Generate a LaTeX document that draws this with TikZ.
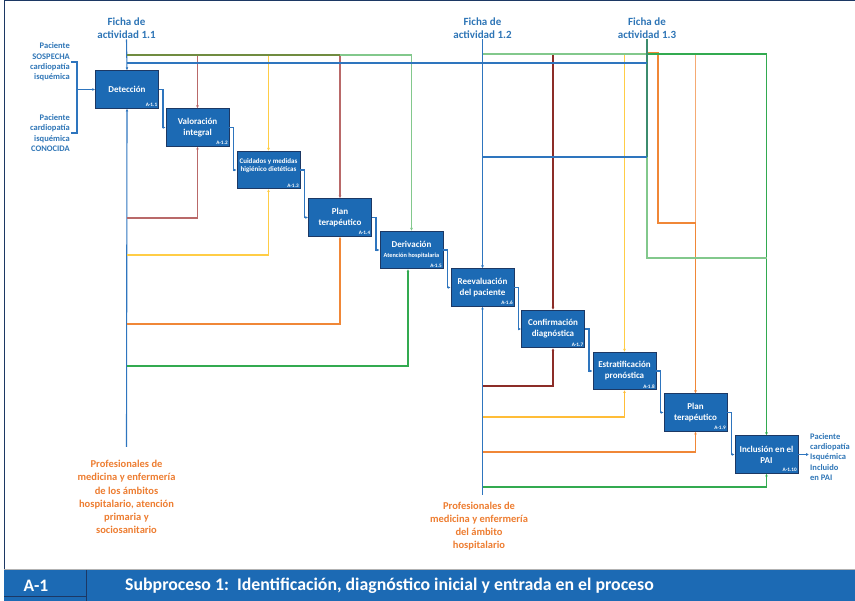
\documentclass[tikz,border=0pt]{standalone}
\usepackage{fontspec}
\setmainfont{Carlito}
\usetikzlibrary{arrows.meta}

\definecolor{boxblue}{RGB}{28,106,180}
\definecolor{boxedge}{RGB}{28,56,100}
\definecolor{lineblue}{RGB}{46,117,190}
\definecolor{txtblue}{RGB}{46,117,182}
\definecolor{txtorange}{RGB}{237,125,49}
\definecolor{olivegreen}{RGB}{112,140,64}
\definecolor{lightgreen}{RGB}{130,200,140}
\definecolor{darkgreen}{RGB}{50,170,80}
\definecolor{tealgreen}{RGB}{60,140,110}
\definecolor{rose}{RGB}{185,105,105}
\definecolor{darkred}{RGB}{140,45,40}
\definecolor{yellowline}{RGB}{255,205,70}
\definecolor{orangeline}{RGB}{240,135,55}
\definecolor{lightorange}{RGB}{245,170,115}

\tikzset{
  act/.style={draw=boxedge, fill=boxblue, line width=0.9pt,
    minimum width=63pt, minimum height=37.5pt, inner sep=1pt,
    align=center, text=white, font=\bfseries\fontsize{9}{11}\selectfont},
  code/.style={anchor=south east, text=white, inner sep=1.6pt,
    font=\bfseries\fontsize{5.2}{5.2}\selectfont},
  link/.style={line width=1.1pt},
  tip/.style={-{Latex[length=2.8pt,width=2.8pt]}},
  flow/.style={link, lineblue, tip},
  ficha/.style={text=txtblue, align=center, inner sep=1pt,
    font=\bfseries\fontsize{11}{12.5}\selectfont},
  patient/.style={text=txtblue, inner sep=1pt,
    font=\bfseries\fontsize{8.5}{10.4}\selectfont},
  staff/.style={text=txtorange, align=center, inner sep=1pt,
    font=\bfseries\fontsize{10.5}{13.2}\selectfont},
  dot/.style={fill=lineblue, inner sep=0pt, minimum size=2.2pt, circle}
}

\begin{document}
\begin{tikzpicture}[x=1pt, y=-1pt]
\useasboundingbox (0,0) rectangle (855,601);

% frame and bottom title band
\draw[boxedge, line width=1pt] (4,570) -- (4,1) -- (855,1);
\draw[black!30] (4,569) -- (855,569);
\fill[boxblue] (4,570) rectangle (855,601);
\draw[boxedge, line width=0.8pt] (86,570) -- (86,601);
\draw[boxedge, line width=0.8pt] (4,596) -- (86,596);
\node[text=white, font=\bfseries\fontsize{17.5}{20}\selectfont] (a1) at (36,586) {A-1};
\node[anchor=west, text=white, inner sep=0pt, font=\bfseries\fontsize{17.8}{20}\selectfont] (title) at (125,586)
  {Subproceso 1:\ \ Identificación, diagnóstico inicial y entrada en el proceso};

% activities
\node[act] (b1) at (127,89.5) {Detección};
\node[act] (b2) at (197.5,127.5) {Valoración\\integral};
\node[act, font=\bfseries\fontsize{7}{8.5}\selectfont] (b3) at (268.5,170) {Cuidados y medidas\\higiénico dietéticas\\[1pt]};
\node[act] (b4) at (340,217.5) {Plan\\terapéutico};
\node[act] (b5) at (411.5,250) {Derivación\\[-1pt]{\fontsize{6.3}{7}\selectfont Atención hospitalaria}};
\node[act] (b6) at (482.5,287.5) {Reevaluación\\del paciente};
\node[act] (b7) at (553,329) {Confirmación\\diagnóstica};
\node[act] (b8) at (624.5,371) {Estratificación\\pronóstica};
\node[act] (b9) at (695.5,412.5) {Plan\\terapéutico};
\node[act] (b10) at (766.5,454.5) {Inclusión en el\\PAI};
\foreach \i in {1,...,10}
  \node[code] (c\i) at (b\i.south east) {A-1.\i};

% control sources
\node[ficha] (f1) at (126.5,28) {Ficha de\\actividad 1.1};
\node[ficha] (f2) at (482.5,28) {Ficha de\\actividad 1.2};
\node[ficha] (f3) at (647,28) {Ficha de\\actividad 1.3};

% inputs and output
\node[patient, anchor=east, align=right] (in1) at (71,62) {Paciente\\SOSPECHA\\cardiopatía\\isquémica};
\node[patient, anchor=east, align=right] (in2) at (71,133) {Paciente\\cardiopatía\\isquémica\\CONOCIDA};
\node[patient, anchor=west, align=left] (out) at (809,457) {Paciente\\cardiopatía\\Isquémica\\Incluido\\en PAI};

% resources
\node[staff] (p1) at (126.5,497) {Profesionales de\\medicina y enfermería\\de los ámbitos\\hospitalario, atención\\primaria y\\sociosanitario};
\node[staff] (p2) at (479,526) {Profesionales de\\medicina y enfermería\\del ámbito\\hospitalario};
\coordinate (m1) at (126.5,447);
\coordinate (m2) at (482.5,495);

% input bracket
\draw[link, lineblue] (in1.east) -- ++(6,0) coordinate (bk) -- (bk |- in2.east) -- (in2.east);
\draw[link, lineblue, tip] (bk |- b1.west) -- (b1.west);

% main sequence
\foreach \a/\b in {1/2,2/3,3/4,4/5,5/6,6/7,7/8,8/9,9/10}
  \draw[flow] (b\a.east) -- ++(4,0) |- (b\b.west);
\draw[flow] (b10.east) -- (b10.east -| out.west);

% controls from Ficha 1.1
\coordinate (h1) at (126.5,55);
\coordinate (h2) at (126.5,63);
\draw[link, lineblue, tip] (f1.south) -- (b1.north);
\draw[link, rose, tip] (b2.north |- h1) -- (b2.north);
\draw[link, yellowline, tip] (b3.north |- h1) -- (b3.north);
\draw[link, rose, tip] (b4.north |- h1) -- (b4.north);
\draw[link, lightgreen, tip] (b4.north |- h1) -- (b5.north |- h1) -- (b5.north);
\draw[link, olivegreen] (h1) -- (b4.north |- h1);

% controls from Ficha 1.2 and 1.3
\coordinate (h3) at (482.5,54);
\draw[link, darkred, tip] (b7.north |- h3) -- (b7.north);
\draw[link, yellowline, tip] (b8.north |- h3) -- (b8.north);
\draw[link, lightorange] (b9.north |- h3) -- (b9.north |- 0,223);
\draw[link, orangeline, tip] (b9.north |- 0,223) -- (b9.north);
\draw[link, orangeline] (f3.south |- 0,53) -- (658,53) -- (658,223) -- (b9.north |- 0,223);
\draw[link, lightgreen] (b6.north |- h3) -- (f3.south |- h3);
\draw[link, darkgreen, tip] (f3.south |- h3) -- (b10.north |- h3) -- (b10.north);
\draw[link, lightgreen] (f3.south |- 0,157) -- (f3.south |- 0,258) -- (b10.north |- 0,258);
\draw[link, tealgreen] (f3.south) -- (f3.south |- 0,157);
\draw[link, lineblue] (h2) -- (f3.south |- h2);
\draw[link, lineblue] (b6.north |- 0,157) -- (f3.south |- 0,157);
\draw[link, lineblue, tip] (f2.south) -- (b6.north);
\foreach \n in {b2,b3,b4,b5,b6,b7,b8}
  \node[dot] at (\n.north |- h2) {};
\node[dot] at (b7.north |- 0,157) {};
\node[dot] at (b8.north |- 0,157) {};

% resources, left group
\draw[link, lineblue, tip] (m1) -- (b1.south);
\draw[link, rose, tip] (m1 |- 0,218) -| (b2.south);
\draw[link, yellowline, tip] (m1 |- 0,255) -| (b3.south);
\draw[link, orangeline, tip] (m1 |- 0,324) -| (b4.south);
\draw[link, darkgreen, tip] (m1 |- 0,366) -| ([xshift=-3.5pt]b5.south);

% resources, right group
\draw[link, lineblue, tip] (m2) -- (b6.south);
\draw[link, darkred, tip] (m2 |- 0,386) -| (b7.south);
\draw[link, yellowline!80!orange, tip] (m2 |- 0,417) -| (b8.south);
\draw[link, orangeline, tip] (m2 |- 0,452) -| (b9.south);
\draw[link, darkgreen, tip] (m2 |- 0,487) -| (b10.south);
\end{tikzpicture}
\end{document}
